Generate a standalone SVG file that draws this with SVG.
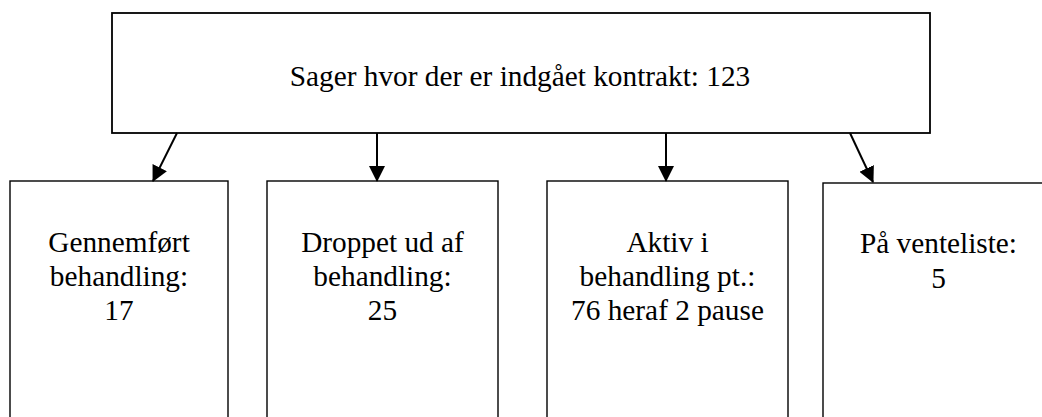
<svg xmlns="http://www.w3.org/2000/svg" width="1042" height="417" viewBox="0 0 1042 417">
<style>
.box{fill:#fff;stroke:#000;stroke-width:1.4}
.top{fill:#fff;stroke:#000;stroke-width:1.8}
.t{font-family:"Liberation Serif","Times New Roman",serif;font-size:29.3px;fill:#000;text-anchor:middle}
.c{stroke:#000;stroke-width:2;fill:none}
</style>
<defs>
<marker id="ah" markerUnits="userSpaceOnUse" markerWidth="16" markerHeight="16" viewBox="0 0 16 16" refX="15" refY="8" orient="auto">
<path d="M0,0 L16,8 L0,16 Z" fill="#000"/>
</marker>
</defs>
<rect width="1042" height="417" fill="#fff"/>
<g id="n-top">
<rect class="top" x="112" y="13" width="818" height="120"/>
<text class="t" x="520" y="86">Sager hvor der er indgået kontrakt: 123</text>
</g>
<g id="n-gennemfoert">
<rect class="box" x="10" y="181" width="218" height="250"/>
<text class="t" x="119" y="252">Gennemført</text>
<text class="t" x="119" y="286">behandling:</text>
<text class="t" x="119" y="320">17</text>
</g>
<g id="n-droppet">
<rect class="box" x="267" y="181" width="231" height="250"/>
<text class="t" x="382.5" y="252">Droppet ud af</text>
<text class="t" x="382.5" y="286">behandling:</text>
<text class="t" x="382.5" y="320">25</text>
</g>
<g id="n-aktiv">
<rect class="box" x="547" y="181" width="241" height="250"/>
<text class="t" x="667.5" y="252">Aktiv i</text>
<text class="t" x="667.5" y="286">behandling pt.:</text>
<text class="t" x="667.5" y="320">76 heraf 2 pause</text>
</g>
<g id="n-venteliste">
<rect class="box" x="823" y="183" width="240" height="250"/>
<text class="t" x="938.5" y="253">På venteliste:</text>
<text class="t" x="938.5" y="288">5</text>
</g>
<g id="connectors">
<line class="c" x1="177" y1="133" x2="153" y2="181" marker-end="url(#ah)"/>
<line class="c" x1="377" y1="133" x2="377" y2="181" marker-end="url(#ah)"/>
<line class="c" x1="666" y1="133" x2="666" y2="181" marker-end="url(#ah)"/>
<line class="c" x1="850" y1="133" x2="873" y2="182" marker-end="url(#ah)"/>
</g>
</svg>
